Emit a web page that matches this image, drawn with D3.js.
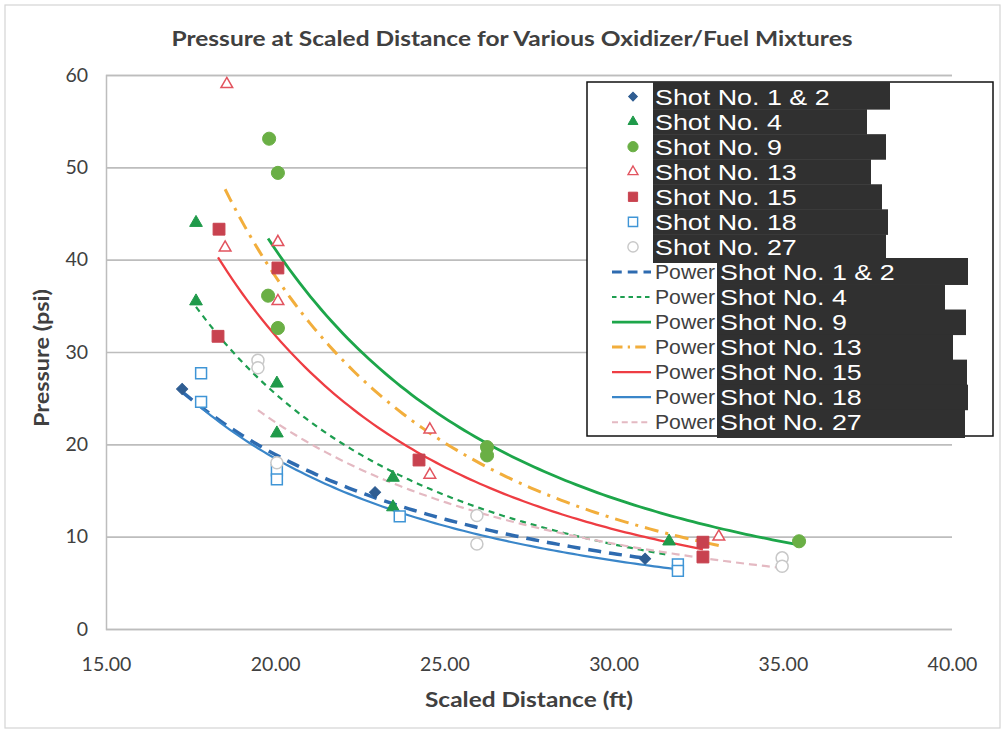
<!DOCTYPE html>
<html>
<head>
<meta charset="utf-8">
<script src="https://cdn.jsdelivr.net/npm/d3@7"></script>
<style>
  html, body { margin: 0; padding: 0; background: #ffffff; }
  svg { display: block; }
</style>
</head>
<body>
<svg id="chart" width="1004" height="731"></svg>
<script>
// ---------------- DATA ----------------
const categories = ["Shot No. 1 & 2", "Shot No. 4", "Shot No. 9", "Shot No. 13", "Shot No. 15", "Shot No. 18", "Shot No. 27"];
const shot12X = [17.25, 20.05, 22.95, 30.93];
const shot12Y = [26.0, 18.0, 14.8, 7.6];
const shot4X  = [17.66, 17.66, 20.05, 20.05, 23.48, 23.48, 31.64];
const shot4Y  = [44.0, 35.5, 26.6, 21.2, 16.4, 13.2, 9.5];
const shot9X  = [19.82, 20.08, 19.79, 20.08, 26.26, 26.26, 35.48];
const shot9Y  = [53.1, 49.4, 36.1, 32.6, 19.7, 18.8, 9.5];
const shot13X = [18.57, 18.52, 20.08, 20.08, 24.57, 24.57, 33.11];
const shot13Y = [59.0, 41.3, 41.9, 35.5, 21.6, 16.7, 10.0];
const shot15X = [18.34, 18.31, 20.08, 24.25, 32.64, 32.64];
const shot15Y = [43.3, 31.7, 39.1, 18.3, 9.4, 7.8];
const shot18X = [17.81, 17.81, 20.05, 20.05, 23.68, 31.90, 31.90];
const shot18Y = [27.7, 24.6, 17.2, 16.2, 12.2, 7.0, 6.3];
const shot27X = [19.49, 19.49, 20.05, 25.96, 25.96, 34.98, 34.98];
const shot27Y = [29.1, 28.3, 18.0, 12.3, 9.2, 7.7, 6.8];
const xTicks = [15, 20, 25, 30, 35, 40];
const yTicks = [0, 10, 20, 30, 40, 50, 60];
const trendLabel = "Power";
const titleText = "Pressure at Scaled Distance for Various Oxidizer/Fuel Mixtures";
const xTitle = "Scaled Distance (ft)";
const yTitle = "Pressure (psi)";

// ---------------- STYLE / LAYOUT ----------------
const seriesX = [shot12X, shot4X, shot9X, shot13X, shot15X, shot18X, shot27X];
const seriesY = [shot12Y, shot4Y, shot9Y, shot13Y, shot15Y, shot18Y, shot27Y];
const markerStyle = [
  {shape: "diamond",  fill: "#2F5D92", stroke: "#2F5D92"},
  {shape: "triangle", fill: "#1F9A4A", stroke: "#1F9A4A"},
  {shape: "circle",   fill: "#6AAF45", stroke: "#6AAF45"},
  {shape: "triangle", fill: "#ffffff", stroke: "#E2545F"},
  {shape: "square",   fill: "#C8424F", stroke: "#C8424F"},
  {shape: "square",   fill: "#ffffff", stroke: "#3F95D6"},
  {shape: "circle",   fill: "#ffffff", stroke: "#C8C8C8"}
];
const trendStyle = [
  {color: "#2E6BB0", width: 3.5, dash: "13,8"},
  {color: "#1E9E50", width: 2.2, dash: "6,5"},
  {color: "#1DA64A", width: 2.8, dash: null},
  {color: "#F2AE3C", width: 3.0, dash: "14,7,3,7"},
  {color: "#EE3D43", width: 2.3, dash: null},
  {color: "#3A86C9", width: 2.2, dash: null},
  {color: "#E4B9C2", width: 2.2, dash: "8,5"}
];
const legendRight1 = [890, 867, 886, 871, 882, 888, 886];
const legendRight2 = [968, 945, 966, 953, 967, 968, 965];

const plot = {left: 106, right: 952, top: 75, bottom: 629};
const font = "Lato, 'Open Sans', 'DejaVu Sans', sans-serif";
const legendFont = "'Liberation Sans', Arial, sans-serif";
const textColor = "#404040";

const svg = d3.select("#chart");

// outer chart border
svg.append("rect").attr("x", 5).attr("y", 5).attr("width", 995).attr("height", 723)
  .attr("fill", "#ffffff").attr("stroke", "#d4d4d4").attr("stroke-width", 1.2);

const x = d3.scaleLinear().domain([15, 40]).range([plot.left, plot.right]);
const y = d3.scaleLinear().domain([0, 60]).range([plot.bottom, plot.top]);

// gridlines via axis
const yGrid = d3.axisLeft(y).tickValues(yTicks).tickSize(-(plot.right - plot.left)).tickFormat("");
svg.append("g").attr("transform", `translate(${plot.left},0)`).call(yGrid)
  .call(g => g.select(".domain").attr("stroke", "#bdbdbd").attr("stroke-width", 1.5))
  .call(g => g.selectAll(".tick line").attr("stroke", "#bdbdbd").attr("stroke-width", 1.6));

// y tick labels
const yAxis = d3.axisLeft(y).tickValues(yTicks).tickSize(0).tickPadding(18).tickFormat(d3.format("d"));
svg.append("g").attr("transform", `translate(${plot.left},0)`).call(yAxis)
  .call(g => g.select(".domain").remove())
  .call(g => g.selectAll("text").attr("font-family", font).attr("font-size", 19.5).attr("fill", textColor));

// x tick labels
const xAxis = d3.axisBottom(x).tickValues(xTicks).tickSize(0).tickPadding(28).tickFormat(d3.format(".2f"));
svg.append("g").attr("transform", `translate(0,${plot.bottom})`).call(xAxis)
  .call(g => g.select(".domain").remove())
  .call(g => g.selectAll("text").attr("font-family", font).attr("font-size", 19.5).attr("fill", textColor));

// title & axis titles
svg.append("text").attr("x", 512).attr("y", 46).attr("text-anchor", "middle")
  .attr("font-family", font).attr("font-weight", "bold").attr("font-size", 21.5)
  .attr("fill", textColor).attr("textLength", 681).attr("lengthAdjust", "spacingAndGlyphs")
  .text(titleText);
svg.append("text").attr("x", 529).attr("y", 707).attr("text-anchor", "middle")
  .attr("font-family", font).attr("font-weight", "bold").attr("font-size", 21)
  .attr("fill", textColor).attr("textLength", 208).attr("lengthAdjust", "spacingAndGlyphs")
  .text(xTitle);
svg.append("text").attr("transform", "translate(49,358) rotate(-90)").attr("text-anchor", "middle")
  .attr("font-family", font).attr("font-weight", "bold").attr("font-size", 21)
  .attr("fill", textColor).attr("textLength", 138).attr("lengthAdjust", "spacingAndGlyphs")
  .text(yTitle);

// power regression (Excel-style) computed from each series
function powerFit(xs, ys) {
  const lx = xs.map(Math.log), ly = ys.map(Math.log);
  const mx = d3.mean(lx), my = d3.mean(ly);
  let sxy = 0, sxx = 0;
  lx.forEach((v, i) => { sxy += (v - mx) * (ly[i] - my); sxx += (v - mx) * (v - mx); });
  const b = sxy / sxx;
  const a = Math.exp(my - b * mx);
  return {a, b};
}

const line = d3.line().x(d => x(d[0])).y(d => y(d[1]));
const trendG = svg.append("g");
seriesX.forEach((xs, i) => {
  const fit = powerFit(xs, seriesY[i]);
  const [x0, x1] = d3.extent(xs);
  const pts = d3.range(0, 101).map(k => {
    const xv = x0 + (x1 - x0) * k / 100;
    return [xv, fit.a * Math.pow(xv, fit.b)];
  });
  const st = trendStyle[i];
  trendG.append("path").datum(pts).attr("d", line).attr("fill", "none")
    .attr("stroke", st.color).attr("stroke-width", st.width)
    .attr("stroke-dasharray", st.dash).attr("stroke-linecap", "butt");
});

// markers
function symbolFor(shape, scale) {
  const s = scale || 1;
  if (shape === "diamond") return d3.symbol().type(d3.symbolSquare).size(62 * s * s)();
  if (shape === "triangle") return d3.symbol().type(d3.symbolTriangle).size(70 * s * s)();
  if (shape === "circle") return d3.symbol().type(d3.symbolCircle).size(135 * s * s)();
  return d3.symbol().type(d3.symbolSquare).size(140 * s * s)();
}
const markG = svg.append("g");
seriesX.forEach((xs, i) => {
  const st = markerStyle[i];
  const pts = xs.map((v, k) => [v, seriesY[i][k]]);
  const open = st.fill === "#ffffff";
  markG.selectAll(null).data(pts).enter().append("path")
    .attr("d", symbolFor(st.shape, open ? 0.92 : 1))
    .attr("transform", d => `translate(${x(d[0])},${y(d[1])})` + (st.shape === "diamond" ? " rotate(45)" : ""))
    .attr("fill", st.fill).attr("stroke", st.stroke).attr("stroke-width", open ? 1.5 : 1);
});

// ---------------- LEGEND ----------------
const lg = svg.append("g");
const rowY0 = 96.6, pitch = 25.05;
lg.append("rect").attr("x", 587).attr("y", 82).attr("width", 406).attr("height", 354)
  .attr("fill", "#ffffff").attr("stroke", "#111111").attr("stroke-width", 1.5);

// dark label backgrounds
categories.forEach((c, i) => {
  const ry = rowY0 + pitch * i;
  const top = i === 0 ? 82 : ry - pitch / 2;
  const bot = i === categories.length - 1 ? 263 : ry + pitch / 2 + 0.5;
  lg.append("rect").attr("x", 653).attr("y", top).attr("width", legendRight1[i] - 653).attr("height", bot - top)
    .attr("fill", "#303030");
});
categories.forEach((c, j) => {
  const ry = rowY0 + pitch * (j + 7);
  const top = j === 0 ? 258 : ry - pitch / 2;
  const bot = j === categories.length - 1 ? 438 : ry + pitch / 2 + 0.5;
  lg.append("rect").attr("x", 717).attr("y", top).attr("width", legendRight2[j] - 717).attr("height", bot - top)
    .attr("fill", "#303030");
});

function stretchText(sel, factor) {
  sel.each(function () {
    const w = this.getComputedTextLength();
    d3.select(this).attr("textLength", w * factor).attr("lengthAdjust", "spacingAndGlyphs");
  });
}

// marker entries
categories.forEach((c, i) => {
  const ry = rowY0 + pitch * i;
  const st = markerStyle[i];
  const open = st.fill === "#ffffff";
  lg.append("path").attr("d", symbolFor(st.shape, 0.78))
    .attr("transform", `translate(633,${ry})` + (st.shape === "diamond" ? " rotate(45)" : ""))
    .attr("fill", st.fill).attr("stroke", st.stroke).attr("stroke-width", open ? 1.4 : 1);
  lg.append("text").attr("x", 655).attr("y", ry + 8).attr("font-family", legendFont)
    .attr("font-size", 22).attr("fill", "#ffffff").text(c).call(stretchText, 1.22);
});
// trendline entries
categories.forEach((c, j) => {
  const ry = rowY0 + pitch * (j + 7);
  const st = trendStyle[j];
  lg.append("line").attr("x1", 612).attr("x2", 651).attr("y1", ry).attr("y2", ry)
    .attr("stroke", st.color).attr("stroke-width", Math.min(st.width, 3))
    .attr("stroke-dasharray", st.dash ? st.dash.split(",").map(v => +v * 0.75).join(",") : null);
  lg.append("text").attr("x", 655).attr("y", ry + 7).attr("font-family", legendFont)
    .attr("font-size", 20).attr("fill", textColor).attr("textLength", 60).attr("lengthAdjust", "spacingAndGlyphs")
    .text(trendLabel);
  lg.append("text").attr("x", 720).attr("y", ry + 8).attr("font-family", legendFont)
    .attr("font-size", 22).attr("fill", "#ffffff").text(c).call(stretchText, 1.22);
});
</script>
</body>
</html>
